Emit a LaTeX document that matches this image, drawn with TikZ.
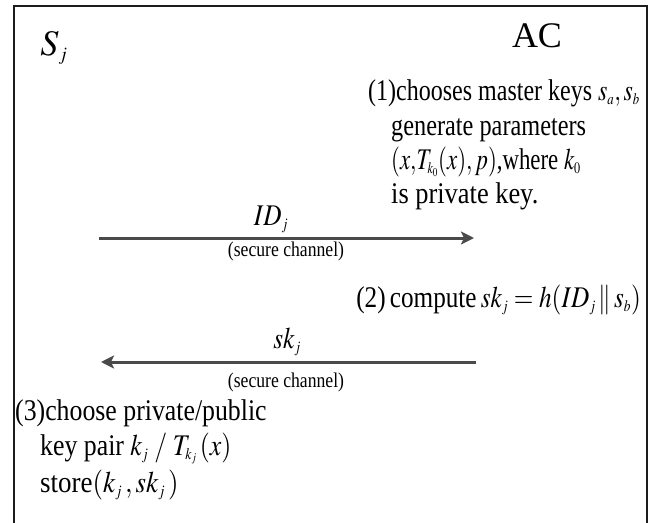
\documentclass[tikz,border=0pt]{standalone}
\usepackage{mathptmx}
\usepackage[no-math]{fontspec}
\setmainfont{Liberation Serif}
\usepackage{graphicx}
\usetikzlibrary{arrows.meta}
\newcommand{\cz}[2][0.84]{\scalebox{#1}[1]{#2}}
\DeclareMathSizes{30}{30}{16}{12}
\DeclareMathSizes{36}{36}{19}{14}
\definecolor{arrowgray}{HTML}{4A4A4A}
\definecolor{framegray}{HTML}{1C1C1C}
\tikzset{
 maintext/.style={anchor=base west, inner sep=0pt, font=\fontsize{30}{34}\selectfont},
 smalltext/.style={anchor=base, inner sep=0pt, font=\fontsize{21}{25}\selectfont},
 bigtext/.style={anchor=base, inner sep=0pt, font=\fontsize{36}{40}\selectfont},
 msg/.style={line width=3pt, draw=arrowgray, -{Stealth[length=13pt,width=13pt,inset=3pt]}},
 frameline/.style={line width=2.5pt, draw=framegray}
}
\begin{document}
\begin{tikzpicture}[x=1pt,y=-1pt]
\useasboundingbox (0,0) rectangle (655,522);
\coordinate (fbl) at (14,525);
\coordinate (ftl) at (14,6);
\coordinate (ftr) at (647,6);
\coordinate (fbr) at (647,525);
\draw[frameline] (fbl) -- (ftl) -- (ftr) -- (fbr);

\node[bigtext] (sj) at (54,55) {$S_{j}$};
\node[bigtext] (ac) at (537,47) {AC};

\node[maintext] (l1) at (368,100) {\cz[0.80]{(1)chooses master keys $s_{a}{,}\,s_{b}$}};
\node[maintext] (l2) at (391,135) {\cz[0.81]{generate parameters}};
\node[maintext] (l3) at (391,169) {\cz[0.76]{$(x{,}T_{k_0}(x){,}\,p)$,where $k_{0}$}};
\node[maintext] (l4) at (391,203) {\cz[0.88]{is private key.}};

\coordinate (a1s) at (99,238);
\coordinate (a1e) at (474,238);
\draw[msg] (a1s) -- (a1e);
\node[maintext, anchor=base] (id) at (271,225) {\cz{$ID_{j}$}};
\node[smalltext] (sc1) at (286,256) {\cz{(secure channel)}};

\node[maintext, anchor=base east] (l5) at (641,307) {\cz{(2)\,compute\,$sk_{j} = h(ID_{j} \,\|\, s_{b})$}};

\coordinate (a2s) at (476,362);
\coordinate (a2e) at (101,362);
\draw[msg] (a2s) -- (a2e);
\node[maintext, anchor=base] (sk) at (287,348) {\cz{$sk_{j}$}};
\node[smalltext] (sc2) at (286,387) {\cz{(secure channel)}};

\node[maintext] (l6) at (15,420) {\cz[0.86]{(3)choose private/public}};
\node[maintext] (l7) at (40,455) {\cz[0.86]{key pair $k_{j}\;/\;T_{k_j}\,(x)$}};
\node[maintext] (l8) at (40,492) {\cz[0.9]{store$(k_{j}\,,sk_{j}\,)$}};
\end{tikzpicture}
\end{document}
